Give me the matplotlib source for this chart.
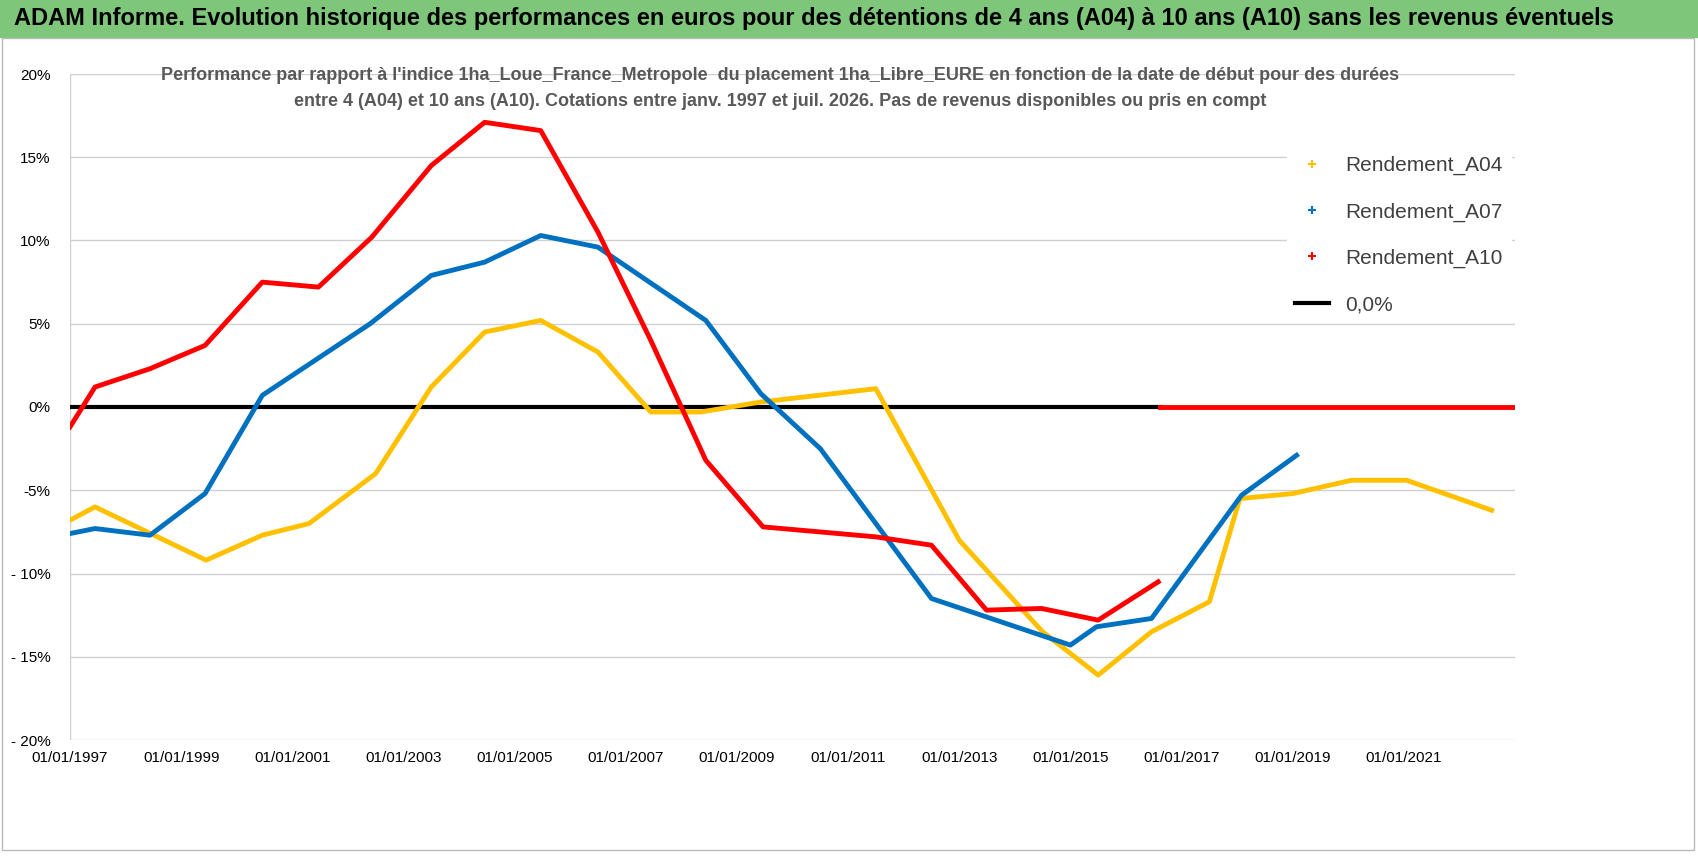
import matplotlib
matplotlib.use("Agg")
import matplotlib.pyplot as plt
from matplotlib.lines import Line2D

plt.rcParams['font.family'] = ['Liberation Sans', 'DejaVu Sans']

a04_x = [1997.0, 1997.45, 1999.45, 2000.46, 2001.3, 2002.5, 2003.5, 2004.46, 2005.47, 2006.5, 2007.45,
         2008.35, 2009.43, 2011.5, 2013.0, 2014.5, 2015.5, 2016.46, 2017.5, 2018.05, 2019.0, 2020.06, 2021.05, 2022.58]
a04_y = [-6.8, -6.0, -9.2, -7.7, -7.0, -4.0, 1.2, 4.5, 5.2, 3.3, -0.3,
         -0.3, 0.3, 1.1, -8.0, -13.5, -16.1, -13.5, -11.7, -5.5, -5.2, -4.4, -4.4, -6.2]
a07_x = [1997.0, 1997.45, 1998.44, 1999.43, 2000.46, 2002.4, 2003.5, 2004.46, 2005.47, 2006.5, 2008.44,
         2009.43, 2010.5, 2012.5, 2015.0, 2015.47, 2016.46, 2018.08, 2019.07]
a07_y = [-7.6, -7.3, -7.7, -5.2, 0.7, 5.0, 7.9, 8.7, 10.3, 9.6, 5.2,
         0.8, -2.5, -11.5, -14.3, -13.2, -12.7, -5.3, -2.9]
a10_x = [1997.0, 1997.45, 1998.44, 1999.43, 2000.46, 2001.47, 2002.43, 2003.5, 2004.46, 2005.47, 2006.5,
         2007.45, 2008.44, 2009.47, 2011.5, 2012.5, 2013.49, 2014.48, 2015.5, 2016.58]
a10_y = [-1.2, 1.2, 2.3, 3.7, 7.5, 7.2, 10.2, 14.5, 17.1, 16.6, 10.5,
         4.0, -3.2, -7.2, -7.8, -8.3, -12.2, -12.1, -12.8, -10.5]
a10_zero_x = [2016.62, 2023.0]
a10_zero_y = [0.0, 0.0]
zero_x = [1997.0, 2016.62]
zero_y = [0.0, 0.0]
tick_years = list(range(1997, 2022, 2))
tick_labels = [f"01/01/{y}" for y in tick_years]
yticks = [-20, -15, -10, -5, 0, 5, 10, 15, 20]
ylabels = ['- 20%', '- 15%', '- 10%', '-5%', '0%', '5%', '10%', '15%', '20%']

YEL, BLU, RED = '#FFC000', '#0070C0', '#FF0000'

fig = plt.figure(figsize=(16.98, 8.56), dpi=100)
fig.patches.append(plt.Rectangle((0, 1 - 37/856), 1, 37/856, transform=fig.transFigure,
                                 color='#7DC67A', zorder=0))
fig.text(0.008, 1 - 19/856, "ADAM Informe. Evolution historique des performances en euros pour des détentions de 4 ans (A04) à 10 ans (A10) sans les revenus éventuels",
         fontsize=17, fontweight='bold', va='center', ha='left')
fig.patches.append(plt.Rectangle((2/1698, 6/856), 1692/1698, (856-44)/856, transform=fig.transFigure,
                                 fill=False, ec='#BBBBBB', lw=1))

ax = fig.add_axes([70/1698, 1 - 740/856, (1515-70)/1698, (740-74)/856])
ax.set_xlim(1997, 2023)
ax.set_ylim(-20, 20)
for s in ax.spines.values():
    s.set_visible(False)
ax.set_yticks(yticks)
ax.set_yticklabels(ylabels, fontsize=11)
ax.set_xticks(tick_years)
ax.set_xticklabels(tick_labels, fontsize=11)
ax.tick_params(length=0, pad=8)
ax.tick_params(axis='y', pad=14)
ax.grid(axis='y', color='#D0D0D0', lw=1)
ax.axvline(1997, color='#D0D0D0', lw=1)

ax.plot(zero_x, zero_y, color='black', lw=3, zorder=2)
ax.plot(a04_x, a04_y, color=YEL, lw=3.5, zorder=3)
ax.plot(a07_x, a07_y, color=BLU, lw=3.5, zorder=4)
ax.plot(a10_x, a10_y, color=RED, lw=3.5, zorder=5)
ax.plot(a10_zero_x, a10_zero_y, color=RED, lw=3.5, zorder=5)

fig.text(780/1698, 1 - 75/856, "Performance par rapport à l'indice 1ha_Loue_France_Metropole  du placement 1ha_Libre_EURE en fonction de la date de début pour des durées",
         ha='center', va='center', fontsize=13, fontweight='bold', color='#595959')
fig.text(780/1698, 1 - 102/856, "entre 4 (A04) et 10 ans (A10). Cotations entre janv. 1997 et juil. 2026. Pas de revenus disponibles ou pris en compt",
         ha='center', va='center', fontsize=13, fontweight='bold', color='#595959')

handles = [Line2D([], [], color=YEL, marker='+', ls='none', ms=6, mew=1.5),
           Line2D([], [], color=BLU, marker='+', ls='none', ms=6, mew=1.5),
           Line2D([], [], color=RED, marker='+', ls='none', ms=6, mew=1.5),
           Line2D([], [], color='black', lw=3)]
leg = ax.legend(handles, ['Rendement_A04', 'Rendement_A07', 'Rendement_A10', '0,0%'],
                loc='upper left', bbox_to_anchor=(0.835, 0.905),
                frameon=True, fontsize=15, labelspacing=1.3, handlelength=1.6,
                facecolor='white', edgecolor='white', framealpha=1)
for t in leg.get_texts():
    t.set_color('#404040')

fig.savefig('out.png', dpi=100)
